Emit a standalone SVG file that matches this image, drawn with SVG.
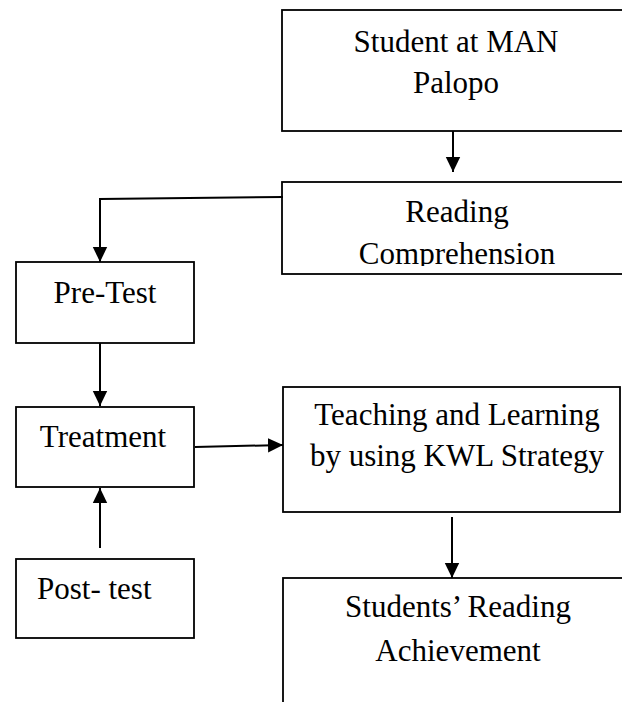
<svg xmlns="http://www.w3.org/2000/svg" width="622" height="702" viewBox="0 0 622 702">
<style>
.box{fill:#fff;stroke:#000;stroke-width:1.8}
.t{font-family:"Liberation Serif","Times New Roman",serif;font-size:31px;fill:#000;text-anchor:middle}
.c{fill:none;stroke:#000;stroke-width:2}
</style>
<defs>
<marker id="ah" markerUnits="userSpaceOnUse" markerWidth="16" markerHeight="16" viewBox="0 0 16 16" refX="15" refY="8" orient="auto">
<path d="M0,0.8 L15,8 L0,15.2 Z" fill="#000"/>
</marker>
<clipPath id="clipR"><rect x="282" y="182" width="360" height="84"/></clipPath>
</defs>
<rect width="622" height="702" fill="#fff"/>
<g id="student">
<rect class="box" x="282" y="10" width="360" height="121"/>
<text class="t" x="456" y="52">Student at MAN</text>
<text class="t" x="456" y="93">Palopo</text>
</g>
<g id="reading">
<rect class="box" x="282" y="182" width="360" height="92"/>
<g clip-path="url(#clipR)">
<text class="t" x="457" y="222">Reading</text>
<text class="t" x="457" y="264">Comprehension</text>
</g>
</g>
<g id="pretest">
<rect class="box" x="16" y="262" width="178" height="81"/>
<text class="t" x="105" y="303">Pre-Test</text>
</g>
<g id="treatment">
<rect class="box" x="16" y="407" width="178" height="80"/>
<text class="t" x="103" y="447">Treatment</text>
</g>
<g id="teaching">
<rect class="box" x="283" y="387" width="337" height="125"/>
<text class="t" x="457" y="425">Teaching and Learning</text>
<text class="t" x="457" y="466">by using KWL Strategy</text>
</g>
<g id="posttest">
<rect class="box" x="16" y="559" width="178" height="79"/>
<text class="t" x="37" y="599" style="text-anchor:start">Post- test</text>
</g>
<g id="achievement">
<rect class="box" x="283" y="578" width="360" height="150"/>
<text class="t" x="458" y="617">Students’ Reading</text>
<text class="t" x="458" y="661">Achievement</text>
</g>
<g id="connectors">
<path class="c" d="M453,131 L453,172" marker-end="url(#ah)"/>
<path class="c" d="M283,197 L100,199 L100,262" marker-end="url(#ah)"/>
<path class="c" d="M100,343 L100,406" marker-end="url(#ah)"/>
<path class="c" d="M100,548 L100,488" marker-end="url(#ah)"/>
<path class="c" d="M195,447 L283,445" marker-end="url(#ah)"/>
<path class="c" d="M452,517 L452,578" marker-end="url(#ah)"/>
</g>
</svg>
